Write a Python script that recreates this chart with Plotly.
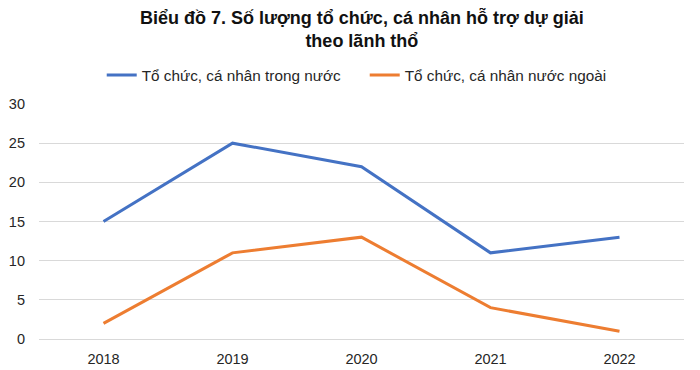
import plotly.graph_objects as go

years = ["2018", "2019", "2020", "2021", "2022"]
domestic = [15, 25, 22, 11, 13]
foreign = [2, 11, 13, 4, 1]
y_ticks = [0, 5, 10, 15, 20, 25, 30]

fig = go.Figure()
fig.add_trace(go.Scatter(x=years, y=domestic, mode="lines", name="Tổ chức, cá nhân trong nước",
                         line=dict(color="#4472C4", width=3)))
fig.add_trace(go.Scatter(x=years, y=foreign, mode="lines", name="Tổ chức, cá nhân nước ngoài",
                         line=dict(color="#ED7D31", width=3)))

# page body has an 8px default margin, so the figure is drawn 8px in from the top-left
fig.update_layout(
    width=692, height=362,
    margin=dict(l=31, r=16, t=96, b=31, autoexpand=False),
    paper_bgcolor="white", plot_bgcolor="white",
    font=dict(family="Liberation Sans, Arial, sans-serif", size=14, color="#262626"),
    legend=dict(orientation="h", x=0.505, xanchor="center", y=1.123, yanchor="middle",
                font=dict(size=15.3, color="#262626"), itemwidth=30,
                entrywidth=218, entrywidthmode="pixels"),
    xaxis=dict(range=[-0.5, 4.5], showgrid=False, showline=False, ticks="",
               ticklabelstandoff=9, tickfont=dict(size=14.5), automargin=False),
    yaxis=dict(range=[0, 30], tickvals=y_ticks, showgrid=True, gridcolor="#D9D9D9",
               gridwidth=1, zeroline=True, zerolinecolor="#D9D9D9", zerolinewidth=1,
               ticks="", ticklabelstandoff=13, tickfont=dict(size=14.5), automargin=False),
    annotations=[dict(text="<b>Biểu đồ 7. Số lượng tổ chức, cá nhân hỗ trợ dự giải<br>theo lãnh thổ</b>",
                      xref="paper", yref="paper", x=0.5, y=1.319, xanchor="center", yanchor="middle",
                      showarrow=False, font=dict(size=18, color="#111111"))],
)
fig.write_html("out.html")
